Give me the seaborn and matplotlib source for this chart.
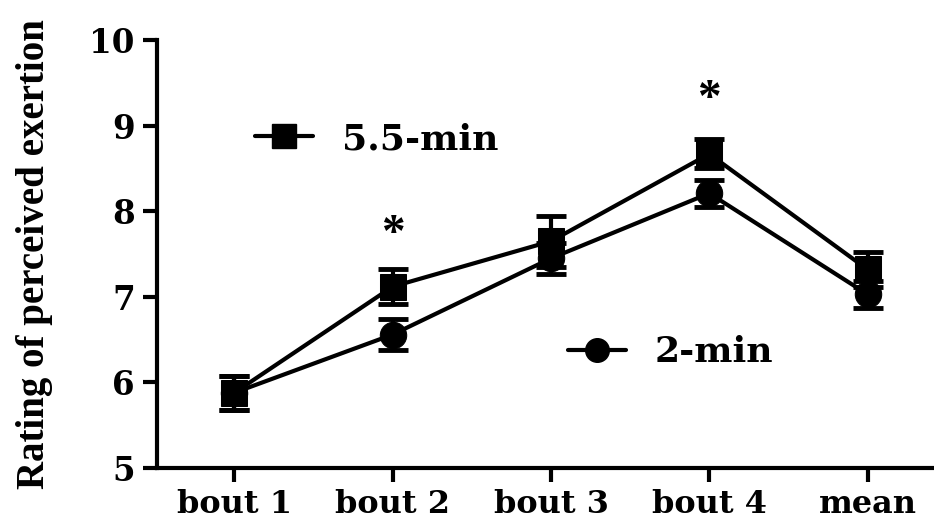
import numpy as np
import pandas as pd
import matplotlib
matplotlib.use('Agg')
import matplotlib.pyplot as plt
import seaborn as sns

# data
bouts = ['bout 1', 'bout 2', 'bout 3', 'bout 4', 'mean']
rpe_long = [5.88, 7.12, 7.65, 8.67, 7.32]   # 5.5-min
err_long = [0.2, 0.2, 0.3, 0.17, 0.2]
rpe_short = [5.88, 6.56, 7.45, 8.21, 7.03]  # 2-min
err_short = [0.2, 0.18, 0.18, 0.16, 0.16]
sig_bouts = [1, 3]
sig_y = [7.72, 9.3]

sns.set_style('ticks')
plt.rcParams['font.family'] = ['DejaVu Serif']
plt.rcParams['font.weight'] = 'bold'
for k in ['text.color', 'axes.labelcolor', 'xtick.color', 'ytick.color', 'axes.edgecolor']:
    plt.rcParams[k] = 'black'

pos = np.arange(len(bouts))
df = pd.DataFrame({
    'pos': np.concatenate([pos, pos]),
    'rpe': rpe_long + rpe_short,
    'group': ['5.5-min'] * 5 + ['2-min'] * 5,
})

fig = plt.figure(figsize=(9.34, 5.21), dpi=100)
ax = fig.add_axes([0.168, 0.1017, 0.832, 0.8213])

sns.lineplot(data=df, x='pos', y='rpe', style='group',
             markers={'5.5-min': 's', '2-min': 'o'}, dashes=False,
             color='black', markersize=19, linewidth=3,
             markeredgecolor='black', legend=False, ax=ax)

ax.errorbar(pos, rpe_long, yerr=err_long, fmt='none', ecolor='black',
            elinewidth=3, capsize=10.5, capthick=3.5)
ax.errorbar(pos, rpe_short, yerr=err_short, fmt='none', ecolor='black',
            elinewidth=3, capsize=10.5, capthick=3.5)

for b, y in zip(sig_bouts, sig_y):
    ax.text(b, y, '*', fontsize=34, fontweight='bold', ha='center', va='center',
            family='Liberation Serif')

ax.set_xlim(-0.49, 4.42)
ax.set_ylim(5, 10)
ax.set_xticks(pos)
ax.set_xticklabels(bouts)
ax.set_yticks(range(5, 11))
ax.set_xlabel('')
ax.set_ylabel('Rating of perceived exertion', fontsize=28, fontweight='bold',
              labelpad=26, family='Liberation Serif')
ax.tick_params(axis='x', length=10, width=3, labelsize=23, pad=5, direction='out')
ax.tick_params(axis='y', length=10, width=3, labelsize=23.5, pad=6, direction='out')
for t in ax.get_xticklabels() + ax.get_yticklabels():
    t.set_fontweight('bold')

for s in ['top', 'right']:
    ax.spines[s].set_visible(False)
for s in ['left', 'bottom']:
    ax.spines[s].set_linewidth(3)

# two separate legend entries, as in the original
h_long = plt.Line2D([], [], color='black', marker='s', markersize=17, linewidth=3)
h_short = plt.Line2D([], [], color='black', marker='o', markersize=17, linewidth=3)
fig.legend([h_long], ['5.5-min'], loc='center left', bbox_to_anchor=(0.273, 0.733),
           frameon=False, fontsize=26, handlelength=1.6, handletextpad=0.8,
           borderpad=0, borderaxespad=0)
fig.legend([h_short], ['2-min'], loc='center left', bbox_to_anchor=(0.608, 0.324),
           frameon=False, fontsize=26, handlelength=1.6, handletextpad=0.8,
           borderpad=0, borderaxespad=0)

fig.savefig('out.png', dpi=100)
